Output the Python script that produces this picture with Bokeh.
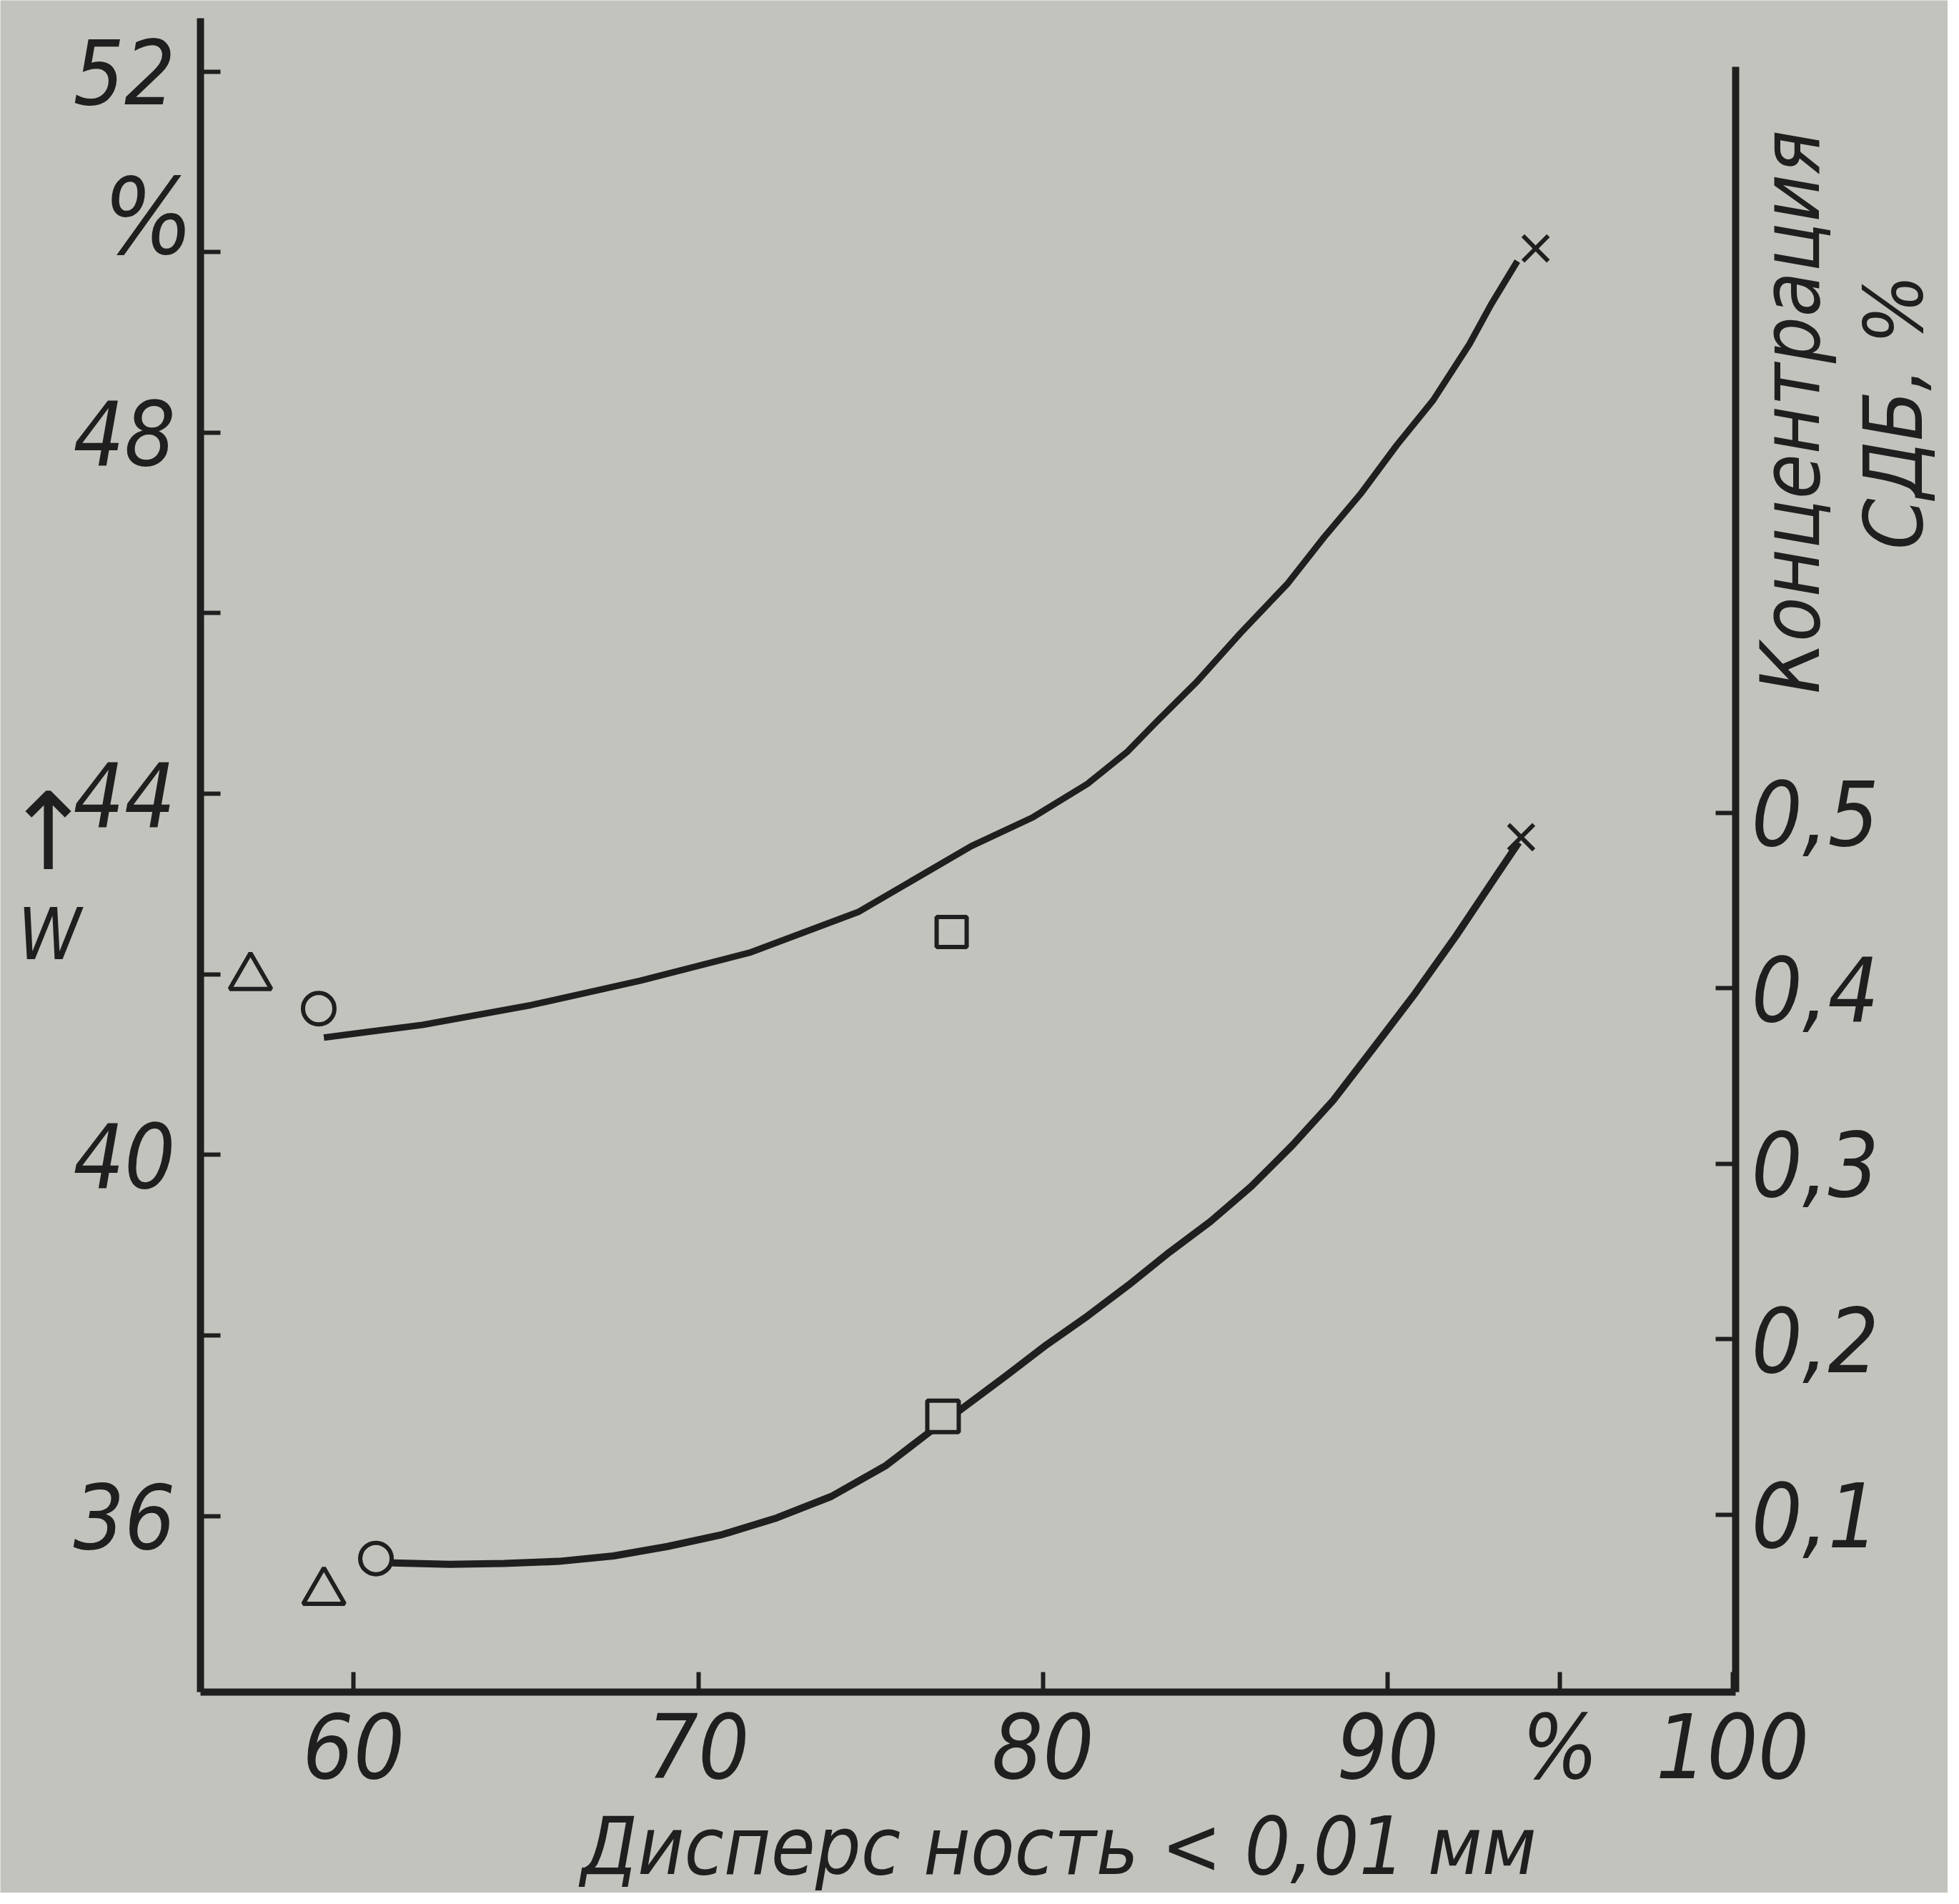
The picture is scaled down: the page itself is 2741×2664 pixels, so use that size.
import math
from bokeh.plotting import figure
from bokeh.models import Range1d, LinearAxis, FixedTicker, Label
from bokeh.embed import file_html
from bokeh.resources import INLINE

# ---------------- data ----------------
# X: Дисперсность < 0,01 мм, %
x_ticks = [60, 70, 80, 90, 95, 100]
x_tick_labels = {60: "60", 70: "70", 80: "80", 90: "90", 95: "%", 100: "100"}

# left axis: W, %
w_ticks = [36, 38, 40, 42, 44, 46, 48, 50, 52]
w_tick_labels = {36: "36", 38: "", 40: "40", 42: "", 44: "44", 46: "", 48: "48", 50: "", 52: "52"}

# right axis: Концентрация СДБ, %
c_ticks = [0.1, 0.2, 0.3, 0.4, 0.5]
c_tick_labels = {0.1: "0,1", 0.2: "0,2", 0.3: "0,3", 0.4: "0,4", 0.5: "0,5"}

# upper curve: W vs dispersity
upper_x = [59.14, 62.0, 65.16, 68.32, 71.49, 74.64, 77.92, 79.71, 81.29, 82.46, 83.30,
           84.46, 85.73, 87.10, 88.15, 89.21, 90.26, 91.32, 92.37, 93.0, 93.76]
upper_w = [41.30, 41.44, 41.66, 41.93, 42.24, 42.69, 43.42, 43.74, 44.11, 44.47, 44.80,
           45.24, 45.78, 46.33, 46.84, 47.32, 47.86, 48.36, 48.98, 49.42, 49.90]

# lower curve: concentration of СДБ vs dispersity
lower_x = [61.13, 62.79, 64.37, 65.95, 67.54, 69.11, 70.70, 72.28, 73.86, 75.45, 76.71,
           77.62, 78.92, 80.11, 81.30, 82.48, 83.67, 84.86, 86.04, 87.23, 88.42, 89.61,
           90.79, 91.98, 93.17, 93.80]
lower_c = [0.0725, 0.0717, 0.0722, 0.0734, 0.0765, 0.0819, 0.0887, 0.0982, 0.1104, 0.1281, 0.1471,
           0.1600, 0.1790, 0.1969, 0.2133, 0.2308, 0.2496, 0.2671, 0.2870, 0.3104, 0.3361, 0.3665,
           0.3969, 0.4297, 0.4647, 0.4830]

# experimental points, upper (W)
upper_tri_x, upper_tri_w = [57.01], [41.97]
upper_circ_x, upper_circ_w = [58.99], [41.62]
upper_sq_x, upper_sq_w = [77.35], [42.47]
upper_cross_x, upper_cross_w = [94.29], [50.04]

# experimental points, lower (concentration)
lower_tri_x, lower_tri_c = [59.14], [0.056]
lower_circ_x, lower_circ_c = [60.65], [0.075]
lower_sq_x, lower_sq_c = [77.10], [0.156]
lower_cross_x, lower_cross_c = [93.87], [0.486]

# axis extents (axes are drawn between these limits; the view is a bit wider)
X_AXIS_START, X_AXIS_END = 55.56, 100.09
X_VIEW_START, X_VIEW_END = 49.755, 106.25
W_AXIS_START, W_AXIS_END = 34.05, 52.59
W_VIEW_START, W_VIEW_END = 31.8255, 52.788
C_AXIS_START, C_AXIS_END = -0.0011, 0.925
C_VIEW_START, C_VIEW_END = -0.1155, 0.9628

# ---------------- style ----------------
BG = "#c3c3be"
INK = "#1f1f1f"
FONT = "'DejaVu Sans Condensed', 'DejaVu Sans', sans-serif"
TICK_SIZE = "125px"

p = figure(width=2725, height=2648,
           x_range=Range1d(X_VIEW_START, X_VIEW_END),
           y_range=Range1d(W_VIEW_START, W_VIEW_END),
           output_backend="svg", toolbar_location=None,
           min_border_left=0, min_border_right=0,
           min_border_top=0, min_border_bottom=0,
           background_fill_color=BG, border_fill_color=BG,
           outline_line_color=None)
p.grid.visible = False
p.extra_y_ranges = {"c": Range1d(C_VIEW_START, C_VIEW_END)}

xaxis = p.xaxis[0]
yaxis = p.yaxis[0]
xaxis.fixed_location = W_AXIS_START
xaxis.bounds = (X_AXIS_START, X_AXIS_END)
yaxis.fixed_location = X_AXIS_START
yaxis.bounds = (W_AXIS_START, W_AXIS_END)

right_axis = LinearAxis(y_range_name="c", fixed_location=X_AXIS_END,
                        bounds=(C_AXIS_START, C_AXIS_END))
p.add_layout(right_axis, "right")


def style_axis(ax, ticks, overrides, standoff):
    ax.ticker = FixedTicker(ticks=ticks, minor_ticks=[])
    ax.major_label_overrides = overrides
    ax.axis_line_width = 10
    ax.axis_line_color = INK
    ax.major_tick_line_width = 6
    ax.major_tick_line_color = INK
    ax.major_tick_in = 28
    ax.major_tick_out = 0
    ax.minor_tick_line_color = None
    ax.major_label_text_font = FONT
    ax.major_label_text_font_style = "italic"
    ax.major_label_text_font_size = TICK_SIZE
    ax.major_label_text_color = INK
    ax.major_label_standoff = standoff


style_axis(xaxis, x_ticks, x_tick_labels, 5)
style_axis(yaxis, w_ticks, w_tick_labels, 35)
style_axis(right_axis, c_ticks, c_tick_labels, 22)


def title_label(text, x, y, size, angle=0.0, align="center", baseline="middle",
                font=FONT, style="italic", line_height=1.2):
    p.add_layout(Label(x=x, y=y, x_units="screen", y_units="screen", text=text,
                       angle=angle, text_align=align, text_baseline=baseline,
                       text_line_height=line_height, text_font=font,
                       text_font_style=style, text_font_size=size, text_color=INK))


# axis titles
title_label("Дисперс ность < 0,01 мм", 1481, 66, "112px", baseline="alphabetic")
title_label("Концентрация\nСДБ, %", 2577, 2072, "114px", angle=math.pi / 2,
            line_height=1.08)
title_label("%", 207, 2345, "148px")
title_label("↑", 67, 1485, "150px", font="'DejaVu Sans', sans-serif", style="normal")
title_label("W", 69, 1341, "100px")

# curves
p.line(upper_x, upper_w, line_color=INK, line_width=9, line_join="round")
p.line(lower_x, lower_c, line_color=INK, line_width=10, line_join="round", y_range_name="c")

# markers
mk = dict(fill_color=BG, line_color=INK, line_width=6)
p.scatter(upper_tri_x, upper_tri_w, marker="triangle", size=58, **mk)
p.scatter(upper_circ_x, upper_circ_w, marker="circle", size=44, **mk)
p.scatter(upper_sq_x, upper_sq_w, marker="square", size=42, **mk)
p.scatter(upper_cross_x, upper_cross_w, marker="x", size=50, line_color=INK, line_width=6)

p.scatter(lower_tri_x, lower_tri_c, marker="triangle", size=58, y_range_name="c", **mk)
p.scatter(lower_circ_x, lower_circ_c, marker="circle", size=44, y_range_name="c", **mk)
p.scatter(lower_sq_x, lower_sq_c, marker="square", size=44, y_range_name="c", **mk)
p.scatter(lower_cross_x, lower_cross_c, marker="x", size=50, y_range_name="c",
          line_color=INK, line_width=6)

open("out.html", "w").write(file_html(p, INLINE))
